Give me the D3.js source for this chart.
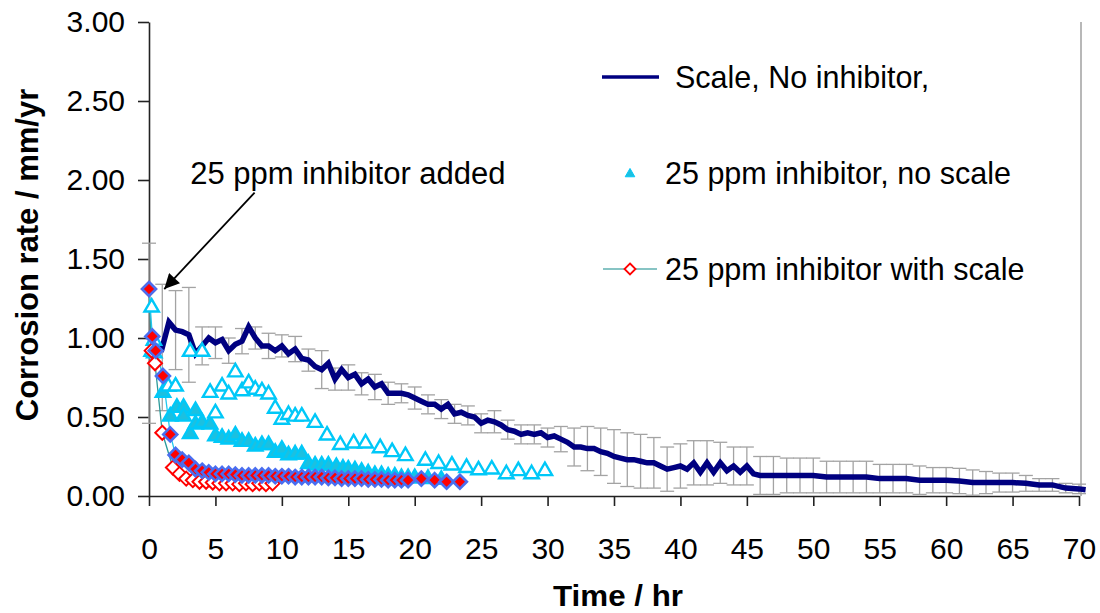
<!DOCTYPE html>
<html>
<head>
<meta charset="utf-8">
<script src="https://cdn.jsdelivr.net/npm/d3@7/dist/d3.min.js"></script>
<style>
  body { margin: 0; background: #fff; }
  svg { display: block; font-family: "Liberation Sans", Arial, sans-serif; }
</style>
</head>
<body>
<div id="chart"></div>
<script>
// corrosion rate vs time, three test runs

var xTicks = [0, 5, 10, 15, 20, 25, 30, 35, 40, 45, 50, 55, 60, 65, 70];
var yTicks = [0, 0.5, 1, 1.5, 2, 2.5, 3];

// Scale, No inhibitor (navy line)
var noInhTime = [0, 0.5, 1, 1.5, 2, 2.5, 3, 3.5, 4, 4.5, 5, 5.5, 6, 6.5, 7, 7.5, 8, 8.5, 9, 9.5,
    10, 10.5, 11, 11.5, 12, 12.5, 13, 13.5, 14, 14.5, 15, 15.5, 16, 16.5, 17, 17.5, 18, 18.5, 19, 19.5,
    20, 20.5, 21, 21.5, 22, 22.5, 23, 23.5, 24, 24.5, 25, 25.5, 26, 26.5, 27, 27.5, 28, 28.5, 29, 29.5,
    30, 30.5, 31, 31.5, 32, 32.5, 33, 33.5, 34, 34.5, 35, 35.5, 36, 36.5, 37, 37.5, 38, 38.5, 39, 39.5,
    40, 40.5, 41, 41.5, 42, 42.5, 43, 43.5, 44, 44.5, 45, 45.5,
    46, 47, 48, 49, 50, 51, 52, 53, 54, 55, 56, 57, 58, 59, 60, 61, 62, 63, 64, 65, 66, 67, 68, 69, 70, 70.5];
var noInhRate = [1.03, 0.98, 0.94, 1.10, 1.05, 1.04, 1.02, 0.90, 0.95, 1.00, 0.97, 0.99, 0.92, 0.96, 0.98, 1.07, 1.00, 0.95, 0.95, 0.92,
    0.95, 0.90, 0.93, 0.87, 0.86, 0.82, 0.80, 0.84, 0.74, 0.80, 0.75, 0.77, 0.71, 0.74, 0.69, 0.71, 0.65, 0.65, 0.65, 0.64,
    0.62, 0.60, 0.58, 0.58, 0.55, 0.58, 0.52, 0.53, 0.51, 0.50, 0.46, 0.48, 0.47, 0.45, 0.42, 0.41, 0.39, 0.40, 0.39, 0.40,
    0.37, 0.38, 0.36, 0.34, 0.31, 0.31, 0.30, 0.30, 0.28, 0.27, 0.25, 0.24, 0.23, 0.23, 0.22, 0.21, 0.21, 0.19, 0.17, 0.18,
    0.19, 0.17, 0.21, 0.15, 0.21, 0.15, 0.21, 0.16, 0.19, 0.15, 0.19, 0.14,
    0.13, 0.13, 0.13, 0.13, 0.13, 0.12, 0.12, 0.12, 0.12, 0.11, 0.11, 0.11, 0.10, 0.10, 0.10, 0.095, 0.085, 0.085, 0.085, 0.085, 0.08, 0.07, 0.07, 0.05, 0.045, 0.04];

// error bars on the navy series, hourly
var errTime = [0, 1, 2, 3, 4, 5, 6, 7, 8, 9, 10, 11, 12, 13, 14, 15, 16, 17, 18, 19, 20, 21, 22, 23, 24, 25, 26, 27, 28, 29,
    30, 31, 32, 33, 34, 35, 36, 37, 38, 39, 40, 41, 42, 43, 44, 45, 46, 47, 48, 49, 50, 51, 52, 53, 54, 55, 56, 57, 58, 59,
    60, 61, 62, 63, 64, 65, 66, 67, 68, 69, 70];
var errSize = [0.57, 0.40, 0.25, 0.30, 0.12, 0.10, 0.08, 0.08, 0.07, 0.08, 0.07, 0.08, 0.07, 0.12, 0.07, 0.08, 0.07, 0.08, 0.07, 0.06,
    0.07, 0.06, 0.06, 0.06, 0.06, 0.06, 0.07, 0.06, 0.06, 0.06, 0.06, 0.08, 0.12, 0.14, 0.15, 0.17, 0.17, 0.17, 0.16, 0.14,
    0.14, 0.14, 0.14, 0.13, 0.12, 0.12, 0.12, 0.12, 0.11, 0.11, 0.11, 0.10, 0.10, 0.10, 0.10, 0.09, 0.09, 0.09, 0.09, 0.08,
    0.08, 0.08, 0.08, 0.07, 0.06, 0.06, 0.05, 0.04, 0.04, 0.03, 0.03];

// 25 ppm inhibitor, no scale (three runs of triangles)
var noScaleRunA = [[0.2, 1.20], [0.37, 0.99], [0.2, 0.92], [0.4, 0.91], [3.1, 0.92], [4.0, 0.92]];
var noScaleRunB = [[1.45, 0.70], [2.0, 0.70], [4.6, 0.66], [5.0, 0.53], [5.5, 0.70], [6.0, 0.65], [6.5, 0.79], [7.0, 0.67],
    [7.5, 0.72], [8.0, 0.68], [8.5, 0.67], [9.0, 0.65], [9.5, 0.56], [10.0, 0.49], [10.5, 0.52], [11.0, 0.51], [11.5, 0.51],
    [12.5, 0.47], [13.4, 0.39], [14.4, 0.33], [15.4, 0.34], [16.3, 0.34], [17.4, 0.31], [18.3, 0.285], [19.3, 0.26],
    [20.8, 0.23], [21.8, 0.21], [22.8, 0.20], [23.9, 0.185], [24.8, 0.17], [25.8, 0.175], [26.9, 0.145], [27.8, 0.165],
    [28.8, 0.145], [29.8, 0.165]];
var noScaleRunC = [[1.05, 0.66], [1.6, 0.51], [2.1, 0.565], [2.6, 0.565], [2.6, 0.51], [3.5, 0.545], [3.1, 0.40], [3.5, 0.46],
    [4.0, 0.47], [4.6, 0.46], [5.0, 0.385], [5.5, 0.375], [6.0, 0.365], [6.5, 0.39], [7.0, 0.35], [7.5, 0.35], [8.0, 0.32],
    [8.5, 0.33], [9.0, 0.33], [9.5, 0.28], [10.0, 0.30], [10.5, 0.265], [11.0, 0.27], [11.5, 0.27], [12.0, 0.21], [12.5, 0.20],
    [13.0, 0.20], [13.5, 0.20], [14.1, 0.19], [14.6, 0.18], [15.0, 0.175], [15.5, 0.17], [16.0, 0.16], [16.5, 0.15], [17.0, 0.14],
    [17.5, 0.14], [18.0, 0.13], [18.5, 0.13], [19.0, 0.12], [19.5, 0.12], [20.0, 0.12], [21.0, 0.115], [22.0, 0.11]];

// 25 ppm inhibitor with scale (two runs of diamonds)
var withScaleOpen = [[0, 1.31], [0.2, 0.92], [0.45, 0.84], [1.0, 0.40], [1.8, 0.18], [2.3, 0.14], [2.8, 0.11], [3.3, 0.10],
    [3.8, 0.09], [4.3, 0.09], [4.8, 0.085], [5.3, 0.08], [5.8, 0.08], [6.3, 0.08], [6.8, 0.075], [7.3, 0.08], [7.8, 0.075],
    [8.3, 0.08], [8.8, 0.075], [9.3, 0.08]];
var withScaleFilled = [[0, 1.31], [0.25, 1.01], [0.5, 0.92], [1.05, 0.76], [1.6, 0.39], [2.0, 0.26], [2.5, 0.23], [3.0, 0.21],
    [3.5, 0.17], [4.0, 0.16], [4.5, 0.15], [5.0, 0.14], [5.5, 0.14], [6.0, 0.14], [6.5, 0.135], [7.0, 0.13], [7.5, 0.13],
    [8.0, 0.13], [8.5, 0.13], [9.0, 0.13], [9.5, 0.125], [10.0, 0.125], [10.5, 0.125], [11.0, 0.12], [11.5, 0.12], [12.0, 0.12],
    [12.5, 0.12], [13.0, 0.12], [13.5, 0.115], [14.0, 0.115], [14.5, 0.11], [15.0, 0.11], [15.5, 0.11], [16.0, 0.11],
    [16.5, 0.105], [17.0, 0.105], [17.5, 0.105], [18.0, 0.10], [18.5, 0.10], [19.0, 0.10], [19.5, 0.10], [20.5, 0.11],
    [21.5, 0.10], [22.4, 0.09], [23.4, 0.09]];

var legendLabels = ['Scale, No inhibitor,', '25 ppm inhibitor, no scale', '25 ppm inhibitor with scale'];
var noteText = '25 ppm inhibitor added';

var width = 1100, height = 613;
var svg = d3.select('#chart').append('svg')
    .attr('width', width)
    .attr('height', height);

var x = d3.scaleLinear().domain([0, 70]).range([149, 1079]);
var y = d3.scaleLinear().domain([0, 3]).range([496, 22]);

// axes
var xAxis = svg.append('g')
    .attr('transform', 'translate(0,' + y(0) + ')')
    .call(d3.axisBottom(x).tickValues(xTicks).tickSize(10).tickPadding(32).tickSizeOuter(0));
var yAxis = svg.append('g')
    .attr('transform', 'translate(' + x(0) + ',0)')
    .call(d3.axisLeft(y).tickValues(yTicks).tickSize(11).tickPadding(13).tickSizeOuter(0)
        .tickFormat(d3.format('.2f')));

[xAxis, yAxis].forEach(function(a){
    a.selectAll('path, line').attr('stroke', '#222').attr('stroke-width', 1.6);
    a.selectAll('text').attr('fill', '#000').style('font-size', '30px')
        .style('font-family', '"Liberation Sans", Arial, sans-serif');
});

// right border of the plot area
svg.append('line')
    .attr('x1', x(70) + 2).attr('x2', x(70) + 2)
    .attr('y1', y(3)).attr('y2', y(0))
    .attr('stroke', '#a0a0a0').attr('stroke-width', 1.5);

// axis titles
svg.append('text')
    .attr('transform', 'translate(38,' + 255 + ') rotate(-90)')
    .attr('text-anchor', 'middle')
    .style('font-size', '31px').style('font-weight', 'bold')
    .text('Corrosion rate / mm/yr');
svg.append('text')
    .attr('x', 618).attr('y', 606)
    .attr('text-anchor', 'middle')
    .attr('textLength', 130).attr('lengthAdjust', 'spacingAndGlyphs')
    .style('font-size', '30px').style('font-weight', 'bold')
    .text('Time / hr');

// error bars
var errData = errTime.map(function(t, i){
    var k = noInhTime.indexOf(t);
    return { t: t, v: noInhRate[k], e: errSize[i] };
});
var eb = svg.append('g').attr('stroke', '#a3a3a3').attr('stroke-width', 1.3);
eb.selectAll('line.v').data(errData).enter().append('line')
    .attr('x1', function(d){ return x(d.t); })
    .attr('x2', function(d){ return x(d.t); })
    .attr('y1', function(d){ return y(d.v + d.e); })
    .attr('y2', function(d){ return y(Math.max(0, d.v - d.e)); });
eb.selectAll('line.top').data(errData).enter().append('line')
    .attr('x1', function(d){ return x(d.t) - 7; })
    .attr('x2', function(d){ return x(d.t) + 7; })
    .attr('y1', function(d){ return y(d.v + d.e); })
    .attr('y2', function(d){ return y(d.v + d.e); });
eb.selectAll('line.bot').data(errData).enter().append('line')
    .attr('x1', function(d){ return x(d.t) - 7; })
    .attr('x2', function(d){ return x(d.t) + 7; })
    .attr('y1', function(d){ return y(Math.max(0, d.v - d.e)); })
    .attr('y2', function(d){ return y(Math.max(0, d.v - d.e)); });

// navy line
var navy = noInhTime.map(function(t, i){ return [t, noInhRate[i]]; });
var line = d3.line().x(function(d){ return x(d[0]); }).y(function(d){ return y(d[1]); });
svg.append('path')
    .datum(navy)
    .attr('d', line)
    .attr('fill', 'none')
    .attr('stroke', '#000080')
    .attr('stroke-width', 5.5)
    .attr('stroke-linejoin', 'miter');

// thin connecting lines of the diamond runs
svg.append('path').datum(withScaleOpen).attr('d', line)
    .attr('fill', 'none').attr('stroke', '#2a9a9a').attr('stroke-width', 1.3);
svg.append('path').datum(withScaleFilled).attr('d', line)
    .attr('fill', 'none').attr('stroke', '#22c8ee').attr('stroke-width', 1.3);

// triangles
var tri = d3.symbol().type(d3.symbolTriangle).size(90);
function triangles(data, fill){
    svg.append('g').selectAll('path').data(data).enter().append('path')
        .attr('d', tri)
        .attr('transform', function(d){ return 'translate(' + x(d[0]) + ',' + (y(d[1]) + 1) + ')'; })
        .attr('fill', fill)
        .attr('stroke', '#00c8f8')
        .attr('stroke-width', 2.4);
}
triangles(noScaleRunC, '#1cc0e0');
triangles(noScaleRunB, '#fff');
triangles(noScaleRunA, '#fff');

// diamonds
function diamond(s){
    return 'M0,' + (-s) + 'L' + s + ',0L0,' + s + 'L' + (-s) + ',0Z';
}
svg.append('g').selectAll('path').data(withScaleOpen).enter().append('path')
    .attr('d', diamond(7))
    .attr('transform', function(d){ return 'translate(' + x(d[0]) + ',' + y(d[1]) + ')'; })
    .attr('fill', '#fff')
    .attr('stroke', '#ff0000')
    .attr('stroke-width', 2);
svg.append('g').selectAll('path').data(withScaleFilled).enter().append('path')
    .attr('d', diamond(7))
    .attr('transform', function(d){ return 'translate(' + x(d[0]) + ',' + y(d[1]) + ')'; })
    .attr('fill', '#ff0000')
    .attr('stroke', '#4a6ef0')
    .attr('stroke-width', 2.6);

// annotation
svg.append('defs').append('marker')
    .attr('id', 'arrow')
    .attr('viewBox', '0 0 10 10')
    .attr('refX', 10).attr('refY', 5)
    .attr('markerWidth', 22).attr('markerHeight', 15)
    .attr('markerUnits', 'userSpaceOnUse')
    .attr('orient', 'auto')
    .append('path').attr('d', 'M0,0L10,5L0,10Z').attr('fill', '#000');
svg.append('line')
    .attr('x1', x(7.95)).attr('y1', y(1.92))
    .attr('x2', x(1.15)).attr('y2', y(1.31))
    .attr('stroke', '#000').attr('stroke-width', 1.8)
    .attr('marker-end', 'url(#arrow)');
svg.append('text')
    .attr('x', x(3.1)).attr('y', y(1.975))
    .style('font-size', '31px')
    .text(noteText);

// legend
var lg = svg.append('g');
lg.append('line').attr('x1', 602).attr('x2', 659).attr('y1', 77).attr('y2', 77)
    .attr('stroke', '#000080').attr('stroke-width', 3.5);
lg.append('path').attr('d', d3.symbol().type(d3.symbolTriangle).size(40))
    .attr('transform', 'translate(630,174)')
    .attr('fill', '#1cc0e0').attr('stroke', '#00c8f8').attr('stroke-width', 1);
lg.append('line').attr('x1', 603).attr('x2', 657).attr('y1', 269).attr('y2', 269)
    .attr('stroke', '#5fb0b0').attr('stroke-width', 1.5);
lg.append('path').attr('d', diamond(5.5))
    .attr('transform', 'translate(630,269)')
    .attr('fill', '#fff').attr('stroke', '#ff0000').attr('stroke-width', 1.8);
lg.selectAll('text').data(legendLabels).enter().append('text')
    .attr('x', function(d, i){ return i === 0 ? 675 : 665; })
    .attr('y', function(d, i){ return [88, 184, 280][i]; })
    .style('font-size', '30.5px')
    .text(function(d){ return d; });
</script>
</body>
</html>
